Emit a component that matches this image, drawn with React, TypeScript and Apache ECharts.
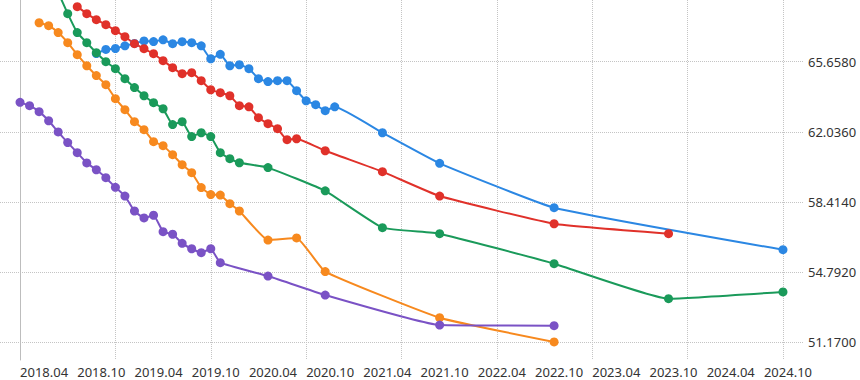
import React, { useEffect, useRef } from 'react';
import * as echarts from 'echarts';

// x-axis tick labels (every 6 months) and vertical grid-line dates (every 10 months)
const xLabels = ['2018.04', '2018.10', '2019.04', '2019.10', '2020.04', '2020.10', '2021.04', '2021.10', '2022.04', '2022.10', '2023.04', '2023.10', '2024.04', '2024.10'];
const xGridDates = ['2018.04', '2019.02', '2019.12', '2020.10', '2021.08', '2022.06', '2023.04', '2024.02', '2024.12'];
const yTicks = [51.17, 54.792, 58.414, 62.036, 65.658];

const blueDates = ['2018.12', '2019.01', '2019.02', '2019.03', '2019.04', '2019.05', '2019.06', '2019.07', '2019.08', '2019.09', '2019.10', '2019.11', '2019.12', '2020.01', '2020.02', '2020.03', '2020.04', '2020.05', '2020.06', '2020.07', '2020.08', '2020.09', '2020.10', '2020.11', '2020.12', '2021.01', '2021.06', '2021.12', '2022.12', '2024.12'];
const blueValues = [66.08, 66.29, 66.34, 66.48, 66.6, 66.73, 66.7, 66.79, 66.59, 66.69, 66.64, 66.48, 65.81, 66.04, 65.45, 65.5, 65.3, 64.78, 64.63, 64.68, 64.68, 64.16, 63.64, 63.44, 63.13, 63.33, 61.99, 60.41, 58.12, 55.95];

const redDates = ['2018.10', '2018.11', '2018.12', '2019.01', '2019.02', '2019.03', '2019.04', '2019.05', '2019.06', '2019.07', '2019.08', '2019.09', '2019.10', '2019.11', '2019.12', '2020.01', '2020.02', '2020.03', '2020.04', '2020.05', '2020.06', '2020.07', '2020.08', '2020.09', '2020.12', '2021.06', '2021.12', '2022.12', '2023.12'];
const redValues = [68.5, 68.14, 67.83, 67.57, 67.26, 66.95, 66.59, 66.33, 66.07, 65.71, 65.35, 65.04, 65.09, 64.68, 64.21, 64.06, 63.9, 63.39, 63.33, 62.77, 62.46, 62.2, 61.63, 61.68, 61.06, 59.98, 58.72, 57.29, 56.78];

const greenDates = ['2018.08', '2018.09', '2018.10', '2018.11', '2018.12', '2019.01', '2019.02', '2019.03', '2019.04', '2019.05', '2019.06', '2019.07', '2019.08', '2019.09', '2019.10', '2019.11', '2019.12', '2020.01', '2020.02', '2020.03', '2020.06', '2020.12', '2021.06', '2021.12', '2022.12', '2023.12', '2024.12'];
const greenValues = [69.24, 68.14, 67.16, 66.64, 66.12, 65.66, 65.3, 64.78, 64.32, 63.9, 63.54, 63.23, 62.41, 62.56, 61.79, 61.99, 61.79, 60.96, 60.65, 60.44, 60.19, 58.99, 57.09, 56.78, 55.23, 53.42, 53.77];

const orangeDates = ['2018.06', '2018.07', '2018.08', '2018.09', '2018.10', '2018.11', '2018.12', '2019.01', '2019.02', '2019.03', '2019.04', '2019.05', '2019.06', '2019.07', '2019.08', '2019.09', '2019.10', '2019.11', '2019.12', '2020.01', '2020.02', '2020.03', '2020.06', '2020.09', '2020.12', '2021.12', '2022.12'];
const orangeValues = [67.67, 67.52, 67.16, 66.64, 66.02, 65.45, 64.94, 64.47, 63.75, 63.18, 62.56, 62.15, 61.53, 61.32, 60.86, 60.34, 59.93, 59.16, 58.8, 58.77, 58.33, 57.95, 56.45, 56.56, 54.82, 52.44, 51.19];

const purpleDates = ['2018.04', '2018.05', '2018.06', '2018.07', '2018.08', '2018.09', '2018.10', '2018.11', '2018.12', '2019.01', '2019.02', '2019.03', '2019.04', '2019.05', '2019.06', '2019.07', '2019.08', '2019.09', '2019.10', '2019.11', '2019.12', '2020.01', '2020.06', '2020.12', '2021.12', '2022.12'];
const purpleValues = [63.56, 63.39, 63.08, 62.61, 62.03, 61.48, 60.96, 60.43, 60.08, 59.67, 59.17, 58.72, 57.95, 57.59, 57.73, 56.88, 56.75, 56.28, 56.0, 55.8, 56.0, 55.28, 54.59, 53.61, 52.06, 52.03];

const toIdx = (d: string) => {
  const [y, m] = d.split('.').map(Number);
  return (y - 2018) * 12 + (m - 4);
};
const fromIdx = (i: number) => {
  const t = Math.round(i) + 3;
  const y = 2018 + Math.floor(t / 12);
  const m = (t % 12) + 1;
  return `${y}.${String(m).padStart(2, '0')}`;
};

const FONT = '"Noto Sans", sans-serif';

export default function App() {
  const ref = useRef<HTMLDivElement>(null);
  useEffect(() => {
    if (!ref.current) return;
    const chart = echarts.init(ref.current, null, { renderer: 'svg' });
    const mk = (dates: string[], values: number[], color: string) => ({
      type: 'line',
      data: dates.map((d, i) => [toIdx(d), values[i]]),
      smooth: 0.12,
      symbol: 'circle',
      symbolSize: 9,
      showSymbol: true,
      lineStyle: { width: 2, color },
      itemStyle: { color },
    });
    chart.setOption({
      animation: false,
      grid: { left: 0, right: 57, top: 0, bottom: 20, containLabel: false },
      xAxis: {
        type: 'value',
        min: -2.1,
        max: 82.1,
        axisLine: { show: false },
        axisTick: { show: false, customValues: xGridDates.map(toIdx) },
        splitLine: { show: true, lineStyle: { type: 'dotted', color: '#c4c4c4', width: 1 } },
        axisLabel: {
          customValues: xLabels.map(toIdx),
          formatter: (v: number) => fromIdx(v),
          align: 'left',
          margin: 5,
          color: '#333',
          fontSize: 13,
          fontFamily: FONT,
        },
      },
      yAxis: {
        type: 'value',
        position: 'right',
        min: 50.256,
        max: 68.844,
        axisLine: { show: true, lineStyle: { color: '#bdbdbd', width: 1 } },
        axisTick: { show: false, customValues: yTicks },
        splitLine: { show: true, lineStyle: { type: 'dotted', color: '#c4c4c4', width: 1 } },
        axisLabel: {
          customValues: yTicks,
          formatter: (v: number) => v.toFixed(4),
          margin: 5,
          color: '#333',
          fontSize: 13,
          fontFamily: FONT,
        },
      },
      series: [
        mk(blueDates, blueValues, '#2b87e3'),
        mk(redDates, redValues, '#e0312a'),
        mk(greenDates, greenValues, '#1a9a5a'),
        mk(orangeDates, orangeValues, '#f7891e'),
        mk(purpleDates, purpleValues, '#7a52c5'),
      ],
    });
    return () => chart.dispose();
  }, []);
  return <div ref={ref} style={{ position: 'absolute', left: 0, top: 0, width: 860, height: 380 }} />;
}
